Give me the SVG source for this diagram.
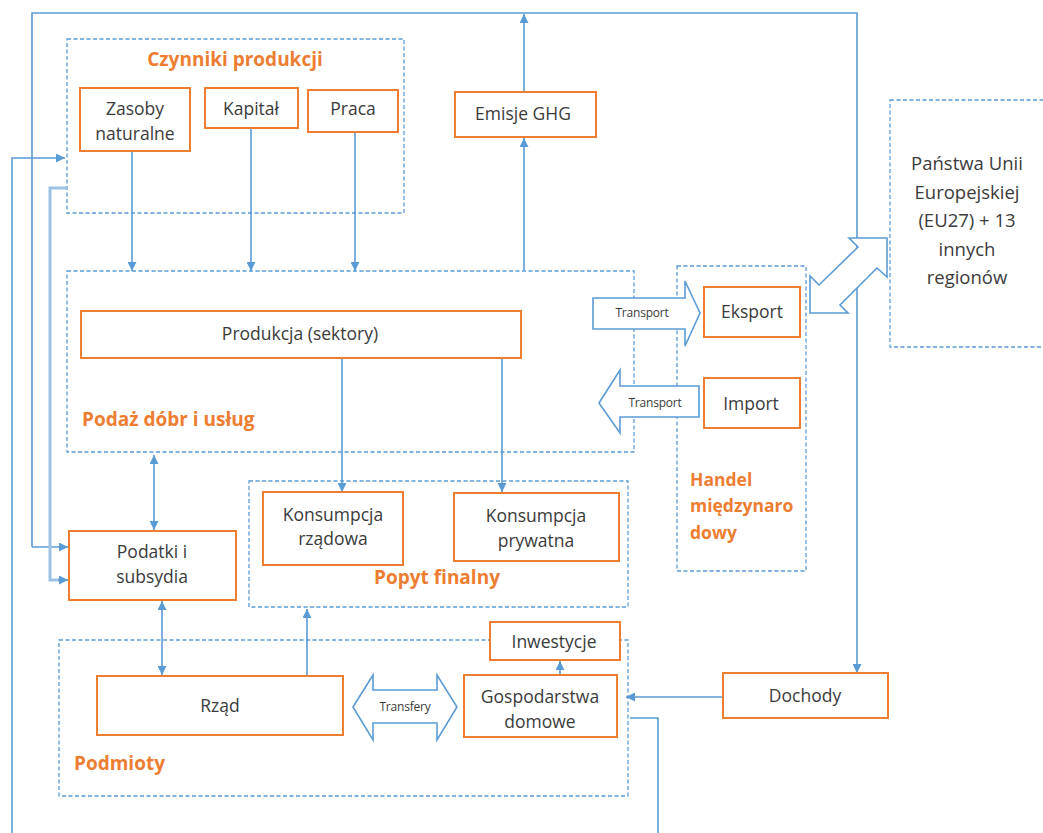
<svg xmlns="http://www.w3.org/2000/svg" width="1043" height="833" viewBox="0 0 1043 833">
<style>
.grp{fill:none;stroke:#5B9BD5;stroke-width:1.3;stroke-dasharray:4 2.5}
.box{fill:#fff;stroke:#ED7D31;stroke-width:2}
.t{font-family:"Open Sans","DejaVu Sans",sans-serif;font-size:17.5px;fill:#3b3b3b;text-anchor:middle}
.eu{font-size:18.5px}
.lbl{font-family:"Open Sans","DejaVu Sans",sans-serif;font-size:19px;font-weight:bold;fill:#ED7D31}
.hd{font-size:17.5px}
.sm{font-family:"Open Sans","DejaVu Sans",sans-serif;font-size:12px;fill:#3b3b3b;text-anchor:middle;letter-spacing:-0.2px}
.ln{fill:none;stroke:#5B9BD5;stroke-width:1.6}
.blk{fill:#fff;stroke:#5B9BD5;stroke-width:1.6}
</style>
<defs>
<marker id="ah" viewBox="0 0 10 10" refX="10" refY="5" markerWidth="9" markerHeight="9" markerUnits="userSpaceOnUse" orient="auto-start-reverse">
<path d="M0,0 L10,5 L0,10 z" fill="#5B9BD5"/>
</marker>
</defs>

<g id="group-czynniki">
<rect class="grp" x="67" y="39" width="337" height="174"/>
<text class="lbl" x="235" y="66" text-anchor="middle">Czynniki produkcji</text>
</g>
<g id="group-podaz">
<rect class="grp" x="67" y="271" width="567" height="181"/>
<text class="lbl" x="82" y="426">Podaż dóbr i usług</text>
</g>
<g id="group-handel">
<rect class="grp" x="677" y="266" width="129" height="305"/>
<text class="lbl hd" x="690" y="486">Handel</text>
<text class="lbl hd" x="690" y="512">międzynaro</text>
<text class="lbl hd" x="690" y="539">dowy</text>
</g>
<g id="group-popyt">
<rect class="grp" x="249" y="481" width="379" height="126"/>
<text class="lbl" x="437" y="584" text-anchor="middle">Popyt finalny</text>
</g>
<g id="group-podmioty">
<rect class="grp" x="59" y="640" width="569" height="156"/>
<text class="lbl" x="74" y="770">Podmioty</text>
</g>
<g id="eu">
<rect class="grp" x="890" y="100" width="160" height="247"/>
<text class="t eu" x="967" y="170">Państwa Unii</text>
<text class="t eu" x="967" y="199">Europejskiej</text>
<text class="t eu" x="967" y="227">(EU27) + 13</text>
<text class="t eu" x="967" y="256">innych</text>
<text class="t eu" x="967" y="284">regionów</text>
</g>

<g id="connectors">
<polyline class="ln" points="32,547 32,13 857,13 857,673" marker-end="url(#ah)"/>
<line class="ln" x1="32" y1="547" x2="68" y2="547" marker-end="url(#ah)"/>
<polyline class="ln" points="12,833 12,158 65,158" marker-end="url(#ah)"/>
<polyline fill="none" stroke="#9DC3E6" stroke-width="3" points="67,188 50,188 50,580 60,580"/>
<line class="ln" x1="58" y1="580" x2="68" y2="580" marker-end="url(#ah)"/>
<line class="ln" x1="524" y1="92" x2="524" y2="14" marker-end="url(#ah)"/>
<line class="ln" x1="524" y1="270" x2="524" y2="138" marker-end="url(#ah)"/>
<line class="ln" x1="132" y1="152" x2="132" y2="271" marker-end="url(#ah)"/>
<line class="ln" x1="251" y1="129" x2="251" y2="271" marker-end="url(#ah)"/>
<line class="ln" x1="355" y1="133" x2="355" y2="271" marker-end="url(#ah)"/>
<line class="ln" x1="342" y1="359" x2="342" y2="492" marker-end="url(#ah)"/>
<line class="ln" x1="502" y1="359" x2="502" y2="492" marker-end="url(#ah)"/>
<line class="ln" x1="154" y1="455" x2="154" y2="530" marker-start="url(#ah)" marker-end="url(#ah)"/>
<line class="ln" x1="162" y1="601" x2="162" y2="675" marker-start="url(#ah)" marker-end="url(#ah)"/>
<line class="ln" x1="307" y1="679" x2="307" y2="609" marker-end="url(#ah)"/>
<line class="ln" x1="560" y1="675" x2="560" y2="661" marker-end="url(#ah)"/>
<line class="ln" x1="723" y1="697" x2="626" y2="697" marker-end="url(#ah)"/>
<polyline class="ln" points="630,718 658,718 658,833"/>
<polygon class="blk" points="810,313 848,313 840,305 877,268 887,277 887,238 849,238 858,247 819,285 810,276"/>
<polygon class="blk" points="593,298 685,298 685,281 700,313 685,346 685,329 593,329"/>
<text class="sm" x="642" y="317">Transport</text>
<polygon class="blk" points="699,386 620,386 620,370 599,403 620,433 620,417 699,417"/>
<text class="sm" x="655" y="407">Transport</text>
<polygon class="blk" points="353,707 373,675 373,690 437,690 437,675 457,707 437,740 437,723 373,723 373,740"/>
<text class="sm" x="405" y="711">Transfery</text>
</g>

<g id="zasoby"><rect class="box" x="80" y="88" width="110" height="63"/><text class="t" x="135" y="115">Zasoby</text><text class="t" x="135" y="140">naturalne</text></g>
<g id="kapital"><rect class="box" x="205" y="88" width="93" height="40"/><text class="t" x="251" y="115">Kapitał</text></g>
<g id="praca"><rect class="box" x="308" y="90" width="90" height="42"/><text class="t" x="353" y="115">Praca</text></g>
<g id="emisje"><rect class="box" x="455" y="92" width="141" height="45"/><text class="t" x="523" y="120">Emisje GHG</text></g>
<g id="produkcja"><rect class="box" x="81" y="311" width="440" height="47"/><text class="t" x="300" y="340">Produkcja (sektory)</text></g>
<g id="eksport"><rect class="box" x="704" y="287" width="96" height="50"/><text class="t" x="752" y="318">Eksport</text></g>
<g id="import"><rect class="box" x="704" y="378" width="96" height="50"/><text class="t" x="751" y="410">Import</text></g>
<g id="kons-rzad"><rect class="box" x="263" y="492" width="140" height="73"/><text class="t" x="333" y="521">Konsumpcja</text><text class="t" x="333" y="545">rządowa</text></g>
<g id="kons-pryw"><rect class="box" x="454" y="493" width="165" height="68"/><text class="t" x="536" y="522">Konsumpcja</text><text class="t" x="536" y="547">prywatna</text></g>
<g id="podatki"><rect class="box" x="69" y="531" width="167" height="69"/><text class="t" x="152" y="558">Podatki i</text><text class="t" x="152" y="583">subsydia</text></g>
<g id="inwestycje"><rect class="box" x="490" y="622" width="130" height="38"/><text class="t" x="554" y="648">Inwestycje</text></g>
<g id="rzad"><rect class="box" x="97" y="676" width="246" height="59"/><text class="t" x="220" y="712">Rząd</text></g>
<g id="gospodarstwa"><rect class="box" x="464" y="675" width="153" height="62"/><text class="t" x="540" y="703">Gospodarstwa</text><text class="t" x="540" y="728">domowe</text></g>
<g id="dochody"><rect class="box" x="723" y="673" width="165" height="45"/><text class="t" x="805" y="702">Dochody</text></g>
</svg>
